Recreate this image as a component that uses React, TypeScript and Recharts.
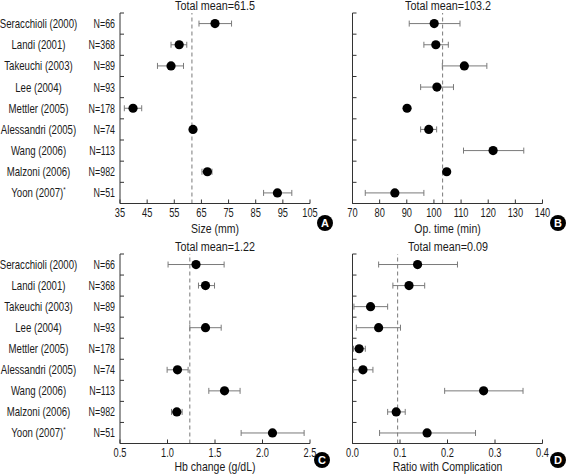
import React from 'react';
import { ScatterChart, Scatter, XAxis, YAxis, ErrorBar, ReferenceLine } from 'recharts';

const studies = [
  'Seracchioli (2000)',
  'Landi (2001)',
  'Takeuchi (2003)',
  'Lee (2004)',
  'Mettler (2005)',
  'Alessandri (2005)',
  'Wang (2006)',
  'Malzoni (2006)',
  'Yoon (2007)*',
];
const sampleSizes = [66, 368, 89, 93, 178, 74, 113, 982, 51];

// A: size (mm)
const sizeMean = [70, 56.8, 53.8, null, 39.8, 61.9, null, 67.2, 93];
const sizeLow = [64.1, 53.8, 48.8, null, 36.6, 61.2, null, 65.2, 87.9];
const sizeHigh = [76.1, 59.6, 58.4, null, 43, 62.6, null, 68.9, 98.3];
const sizeTicks = [35, 45, 55, 65, 75, 85, 95, 105];

// B: op. time (min)
const timeMean = [100.1, 100.7, 111.2, 101.1, 90.1, 98.1, 121.8, 104.7, 85.6];
const timeLow = [90.9, 96.3, 103.1, 95.1, 90.1, 95.1, 110.9, 104.7, 74.7];
const timeHigh = [109.6, 105.3, 119.5, 107.2, 90.1, 101, 133.1, 104.7, 96.3];
const timeTicks = [70, 80, 90, 100, 110, 120, 130, 140];

// C: Hb change (g/dL)
const hbMean = [1.3, 1.4, null, 1.4, null, 1.105, 1.6, 1.098, 2.105];
const hbLow = [1.006, 1.326, null, 1.235, null, 0.996, 1.435, 1.042, 1.775];
const hbHigh = [1.596, 1.495, null, 1.565, null, 1.217, 1.764, 1.154, 2.438];
const hbTicks = [0.5, 1.0, 1.5, 2.0, 2.5];

// D: ratio with complication
const compMean = [0.137, 0.119, 0.038, 0.055, 0.014, 0.022, 0.276, 0.092, 0.157];
const compLow = [0.055, 0.085, 0.003, 0.008, 0.002, 0.002, 0.194, 0.074, 0.057];
const compHigh = [0.221, 0.152, 0.074, 0.101, 0.027, 0.043, 0.359, 0.111, 0.259];
const compTicks = [0, 0.1, 0.2, 0.3, 0.4];

const FONT = "'Liberation Sans', Arial, sans-serif";
const INK = '#1a1a1a';
const AXIS = '#333';
const BAR = '#7a7a7a';

const rowBounds = [0, 1, 2, 3, 4, 5, 6, 7, 8, 9];
const rowMids = [0.5, 1.5, 2.5, 3.5, 4.5, 5.5, 6.5, 7.5, 8.5];

function buildRows(mean: (number | null)[], low: (number | null)[], high: (number | null)[]) {
  const rows: { x: number; y: number; err: number[] }[] = [];
  mean.forEach((m, i) => {
    if (m == null) return;
    rows.push({ x: m, y: i + 0.5, err: [m - (low[i] as number), (high[i] as number) - m] });
  });
  return rows;
}

// the source figure uses a tall, horizontally squeezed sans face
function Squeezed({ x, y, sx, anchor, size, children }: any) {
  return (
    <text
      transform={`translate(${x} ${y}) scale(${sx} 1)`}
      textAnchor={anchor}
      fontSize={size}
      fill={INK}
      fontFamily={FONT}
    >
      {children}
    </text>
  );
}

function renderXTick(props: any, fmt: (v: number) => string) {
  const { x, y, payload } = props;
  const axisY = y - 4;
  return (
    <g>
      <line x1={x} x2={x} y1={axisY} y2={axisY - 4} stroke={AXIS} />
      <Squeezed x={x} y={axisY + 13.5} sx={0.74} anchor="middle" size={12.5}>
        {fmt(payload.value)}
      </Squeezed>
    </g>
  );
}

function renderNameTick(props: any) {
  const { x, y, payload } = props;
  const i = Math.floor(payload.value);
  const name = studies[i];
  const star = name.endsWith('*');
  return (
    <g>
      <Squeezed x={x - 76.5} y={y + 4.5} sx={0.77} anchor="middle" size={12.5}>
        {star ? name.slice(0, -1) : name}
        {star && (
          <tspan fontSize={8} dy={-5}>
            *
          </tspan>
        )}
      </Squeezed>
      <Squeezed x={x} y={y + 4.5} sx={0.71} anchor="end" size={12.5}>
        {`N=${sampleSizes[i]}`}
      </Squeezed>
    </g>
  );
}

function renderAxisTitle(vb: any, text: string, offset: number) {
  const { x, y, width, height } = vb;
  return (
    <Squeezed x={x + width / 2} y={y + height - offset} sx={0.84} anchor="middle" size={12.5}>
      {text}
    </Squeezed>
  );
}

interface PanelProps {
  left: number;
  top: number;
  width: number;
  height: number;
  marginTop: number;
  marginLeft: number;
  marginRight: number;
  xHeight: number;
  labelOffset: number;
  names: boolean;
  domain: [number, number];
  ticks: number[];
  fmt: (v: number) => string;
  mean: number;
  title: string;
  axisTitle: string;
  letter: string;
  badgeX: number;
  badgeY: number;
  rows: { x: number; y: number; err: number[] }[];
}

function Panel(p: PanelProps) {
  const plotLeft = p.left + p.marginLeft + (p.names ? 120 : 0);
  const plotRight = p.left + p.width - p.marginRight;
  return (
    <>
      <div style={{ position: 'absolute', left: p.left, top: p.top }}>
        <ScatterChart
          width={p.width}
          height={p.height}
          margin={{ top: p.marginTop, right: p.marginRight, bottom: 0, left: p.marginLeft }}
        >
          <XAxis
            type="number"
            dataKey="x"
            domain={p.domain}
            ticks={p.ticks}
            allowDataOverflow
            interval={0}
            height={p.xHeight}
            axisLine={{ stroke: AXIS }}
            tickLine={false}
            tickSize={4}
            tickMargin={0}
            tick={(t: any) => renderXTick(t, p.fmt)}
            label={{
              position: 'insideBottom',
              content: (l: any) => renderAxisTitle(l.viewBox, p.axisTitle, p.labelOffset),
            }}
          />
          <YAxis
            yAxisId="rows"
            type="number"
            dataKey="y"
            domain={[0, 9]}
            reversed
            allowDataOverflow
            ticks={rowBounds}
            interval={0}
            mirror
            tickSize={4}
            tickFormatter={() => ''}
            axisLine={{ stroke: AXIS }}
            tickLine={{ stroke: AXIS }}
          />
          {p.names && (
            <YAxis
              yAxisId="names"
              type="number"
              domain={[0, 9]}
              reversed
              allowDataOverflow
              ticks={rowMids}
              interval={0}
              width={120}
              axisLine={false}
              tickLine={false}
              tickSize={0}
              tickMargin={5}
              tick={renderNameTick}
            />
          )}
          <ReferenceLine x={p.mean} yAxisId="rows" stroke={BAR} strokeDasharray="4 3" />
          <Scatter
            data={p.rows}
            yAxisId="rows"
            isAnimationActive={false}
            shape={(s: any) => <circle cx={s.cx} cy={s.cy} r={4.6} fill="#000" />}
          >
            <ErrorBar dataKey="err" direction="x" width={3} stroke={BAR} strokeWidth={1} isAnimationActive={false} />
          </Scatter>
        </ScatterChart>
      </div>
      <div
        style={{
          position: 'absolute',
          left: plotLeft,
          width: plotRight - plotLeft,
          top: p.top + p.marginTop - 13,
          textAlign: 'center',
          fontFamily: FONT,
          fontSize: 12.5,
          color: INK,
          lineHeight: '12px',
          transform: 'scaleX(0.86)',
        }}
      >
        {p.title}
      </div>
      <div
        style={{
          position: 'absolute',
          left: p.badgeX - 8,
          top: p.badgeY - 8,
          width: 16,
          height: 16,
          borderRadius: 8,
          background: '#000',
          color: '#fff',
          fontFamily: FONT,
          fontWeight: 'bold',
          fontSize: 11,
          lineHeight: '16px',
          textAlign: 'center',
        }}
      >
        {p.letter}
      </div>
    </>
  );
}

export default function App() {
  const one = (v: number) => v.toFixed(1);
  const int = (v: number) => String(v);
  return (
    <div style={{ position: 'absolute', left: 0, top: 0, width: 566, height: 475, background: '#fff', overflow: 'hidden' }}>
      <Panel
        left={0}
        top={0}
        width={340}
        height={240}
        marginTop={13}
        marginLeft={0}
        marginRight={30}
        xHeight={36.5}
        labelOffset={7}
        names
        domain={[35, 105]}
        ticks={sizeTicks}
        fmt={int}
        mean={61.5}
        title="Total mean=61.5"
        axisTitle="Size (mm)"
        letter="A"
        badgeX={325}
        badgeY={223}
        rows={buildRows(sizeMean, sizeLow, sizeHigh)}
      />
      <Panel
        left={340}
        top={0}
        width={226}
        height={240}
        marginTop={13}
        marginLeft={12.5}
        marginRight={23.5}
        xHeight={36.5}
        labelOffset={7}
        names={false}
        domain={[70, 140]}
        ticks={timeTicks}
        fmt={int}
        mean={103.2}
        title="Total mean=103.2"
        axisTitle="Op. time (min)"
        letter="B"
        badgeX={558}
        badgeY={223}
        rows={buildRows(timeMean, timeLow, timeHigh)}
      />
      <Panel
        left={0}
        top={240}
        width={340}
        height={235}
        marginTop={14}
        marginLeft={0}
        marginRight={30}
        xHeight={31.5}
        labelOffset={4}
        names
        domain={[0.5, 2.5]}
        ticks={hbTicks}
        fmt={one}
        mean={1.235}
        title="Total mean=1.22"
        axisTitle="Hb change (g/dL)"
        letter="C"
        badgeX={322}
        badgeY={460}
        rows={buildRows(hbMean, hbLow, hbHigh)}
      />
      <Panel
        left={340}
        top={240}
        width={226}
        height={235}
        marginTop={14}
        marginLeft={12.5}
        marginRight={23.5}
        xHeight={31.5}
        labelOffset={4}
        names={false}
        domain={[0, 0.4]}
        ticks={compTicks}
        fmt={one}
        mean={0.095}
        title="Total mean=0.09"
        axisTitle="Ratio with Complication"
        letter="D"
        badgeX={558}
        badgeY={460}
        rows={buildRows(compMean, compLow, compHigh)}
      />
    </div>
  );
}
